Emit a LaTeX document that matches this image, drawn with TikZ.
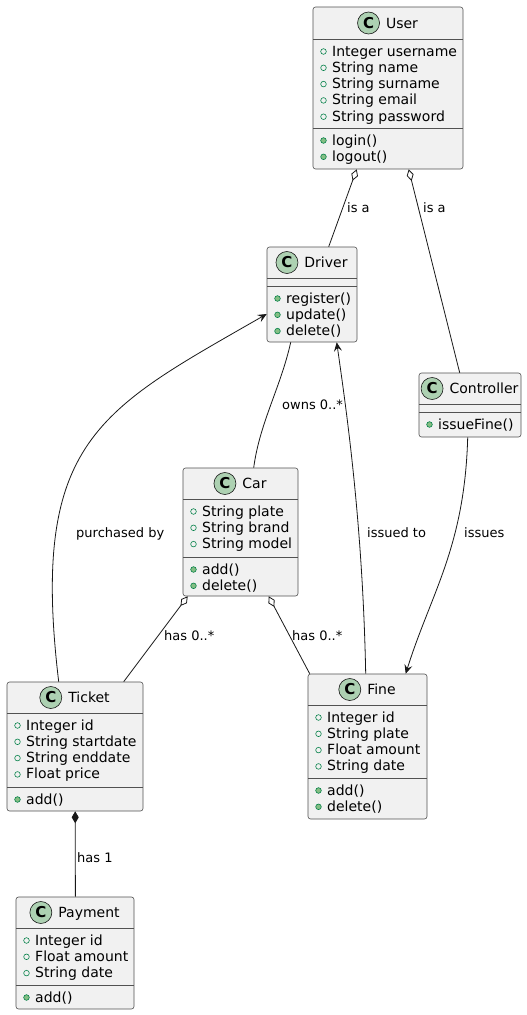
\documentclass[tikz,border=0pt]{standalone}
\usepackage{fontspec}
\setmainfont{DejaVu Sans}
\usetikzlibrary{arrows.meta,positioning,fit}
\definecolor{umlfill}{HTML}{F1F1F1}
\definecolor{umlline}{HTML}{181818}
\definecolor{umlcirc}{HTML}{ADD1B2}
\definecolor{publine}{HTML}{038048}
\definecolor{pubfill}{HTML}{84BE84}
\tikzset{
  cls/.style={draw=umlline!75, fill=umlfill, rounded corners=2.5pt, line width=0.6pt, inner sep=0pt},
  sepline/.style={draw=umlline!75, line width=0.6pt},
  ctitle/.style={font=\fontsize{14}{16}\selectfont, anchor=base, inner sep=0pt,
                 text height=12pt, text depth=2pt},
  cbadge/.style={circle, draw=umlline, fill=umlcirc, line width=0.6pt, minimum size=22pt,
                 inner sep=0pt, font=\fontsize{15}{16}\selectfont\bfseries},
  rowtxt/.style={font=\fontsize{14}{16}\selectfont, anchor=base west, inner sep=0pt},
  fldpin/.style={draw=publine, line width=0.6pt},
  oppin/.style={draw=publine, fill=pubfill, line width=0.6pt},
  elabel/.style={font=\fontsize{13}{15}\selectfont, anchor=west, inner sep=0pt,
                 text height=9.5pt, text depth=0pt},
  link/.style={umlline, line width=0.8pt},
  agg/.style={link, {Diamond[open, length=12pt, width=7pt]}-},
  comp/.style={link, {Diamond[length=12pt, width=7pt]}-},
  nav/.style={link, -{Stealth[length=9pt, width=8pt, inset=3.5pt]}},
}
% class box: name, title, left, top, right, bottom, header line
\newcommand{\umlclass}[7]{%
  \node[cls, fit={(#3,#4) (#5,#6)}] (#1) {};
  \node[ctitle] (#1-t) at ({(#3+#5)/2+14},{(#4+#7)/2+5}) {#2};
  \node[cbadge, left=6pt of #1-t] (#1-c) {C};
  \draw[sepline] (#3,#7) -- (#5,#7);
}
% rows: prefix, left, first row, pin style, list
\newcommand{\umlrows}[5]{%
  \foreach \row [count=\i from 0] in {#5}{
    \path[#4] ({#2+10.5},{#3+16.3*\i}) circle (2.8pt);
    \node[rowtxt] (#1\i) at ({#2+19},{#3+16.3*\i+4.5}) {\row};
  }
}

\begin{document}
\begin{tikzpicture}[x=1pt, y=-1pt]
  \useasboundingbox[fill=white] (0,0) rectangle (527,1015);

  % classes
  \umlclass{user}{User}{313}{7}{463}{169}{39}
  \draw[sepline] (313,128) -- (463,128);
  \umlrows{user-a}{313}{51.5}{fldpin}{Integer username, String name, String surname, String email, String password}
  \umlrows{user-m}{313}{140.5}{oppin}{login(), logout()}

  \umlclass{driver}{Driver}{267}{247}{357}{342}{278}
  \draw[sepline] (267,286) -- (357,286);
  \umlrows{driver-m}{267}{298.5}{oppin}{register(), update(), delete()}

  \umlclass{ctrl}{Controller}{419}{373}{521}{437}{404}
  \draw[sepline] (419,412) -- (521,412);
  \umlrows{ctrl-m}{419}{424.5}{oppin}{issueFine()}

  \umlclass{car}{Car}{183}{468}{298}{596}{499}
  \draw[sepline] (183,557) -- (298,557);
  \umlrows{car-a}{183}{511.5}{fldpin}{String plate, String brand, String model}
  \umlrows{car-m}{183}{569.5}{oppin}{add(), delete()}

  \umlclass{ticket}{Ticket}{7}{682}{143}{811}{713}
  \draw[sepline] (7,787) -- (143,787);
  \umlrows{ticket-a}{7}{725.5}{fldpin}{Integer id, String startdate, String enddate, Float price}
  \umlrows{ticket-m}{7}{799.5}{oppin}{add()}

  \umlclass{fine}{Fine}{308}{674}{427}{819}{705}
  \draw[sepline] (308,778) -- (427,778);
  \umlrows{fine-a}{308}{717.5}{fldpin}{Integer id, String plate, Float amount, String date}
  \umlrows{fine-m}{308}{790.5}{oppin}{add(), delete()}

  \umlclass{payment}{Payment}{16}{897}{134}{1009}{928}
  \draw[sepline] (16,985) -- (134,985);
  \umlrows{payment-a}{16}{940.5}{fldpin}{Integer id, Float amount, String date}
  \umlrows{payment-m}{16}{997.5}{oppin}{add()}

  % relations
  \draw[agg] ([xshift=44pt]user.south west) -- ([xshift=62pt]driver.north west);
  \draw[agg] ([xshift=96pt]user.south west) -- ([xshift=41pt]ctrl.north west);
  \draw[link] ([xshift=24pt]driver.south west) .. controls +(-10,45) and +(6,-45) .. ([xshift=71pt]car.north west);
  \draw[nav] ([xshift=52pt]ticket.north west) .. controls +(-29,-242) and +(-167,96) .. ([yshift=-19.5pt]driver.west);
  \draw[nav] ([xshift=58pt]fine.north west) .. controls +(-3,-150) and +(10,70) .. ([xshift=70pt]driver.south west);
  \draw[nav] ([xshift=49pt]ctrl.south west) .. controls +(-3,110) and +(25,-80) .. ([xshift=98pt]fine.north west);
  \draw[agg] ([xshift=5pt]car.south west) -- ([xshift=117pt]ticket.north west);
  \draw[agg] ([xshift=86pt]car.south west) -- ([xshift=2pt]fine.north west);
  \draw[comp] ([xshift=68.5pt]ticket.south west) -- ([xshift=59.7pt]payment.north west);

  % labels
  \node[elabel] (isa-l) at (347,208) {is a};
  \node[elabel] (isa-r) at (423,208) {is a};
  \node[elabel] (owns) at (282,405) {owns 0..*};
  \node[elabel] (bought) at (76,533) {purchased by};
  \node[elabel] (issuedto) at (367,533) {issued to};
  \node[elabel] (issues) at (464,533) {issues};
  \node[elabel] (has-l) at (164,636) {has 0..*};
  \node[elabel] (has-r) at (292,636) {has 0..*};
  \node[elabel] (hasone) at (77,858) {has 1};
\end{tikzpicture}
\end{document}
